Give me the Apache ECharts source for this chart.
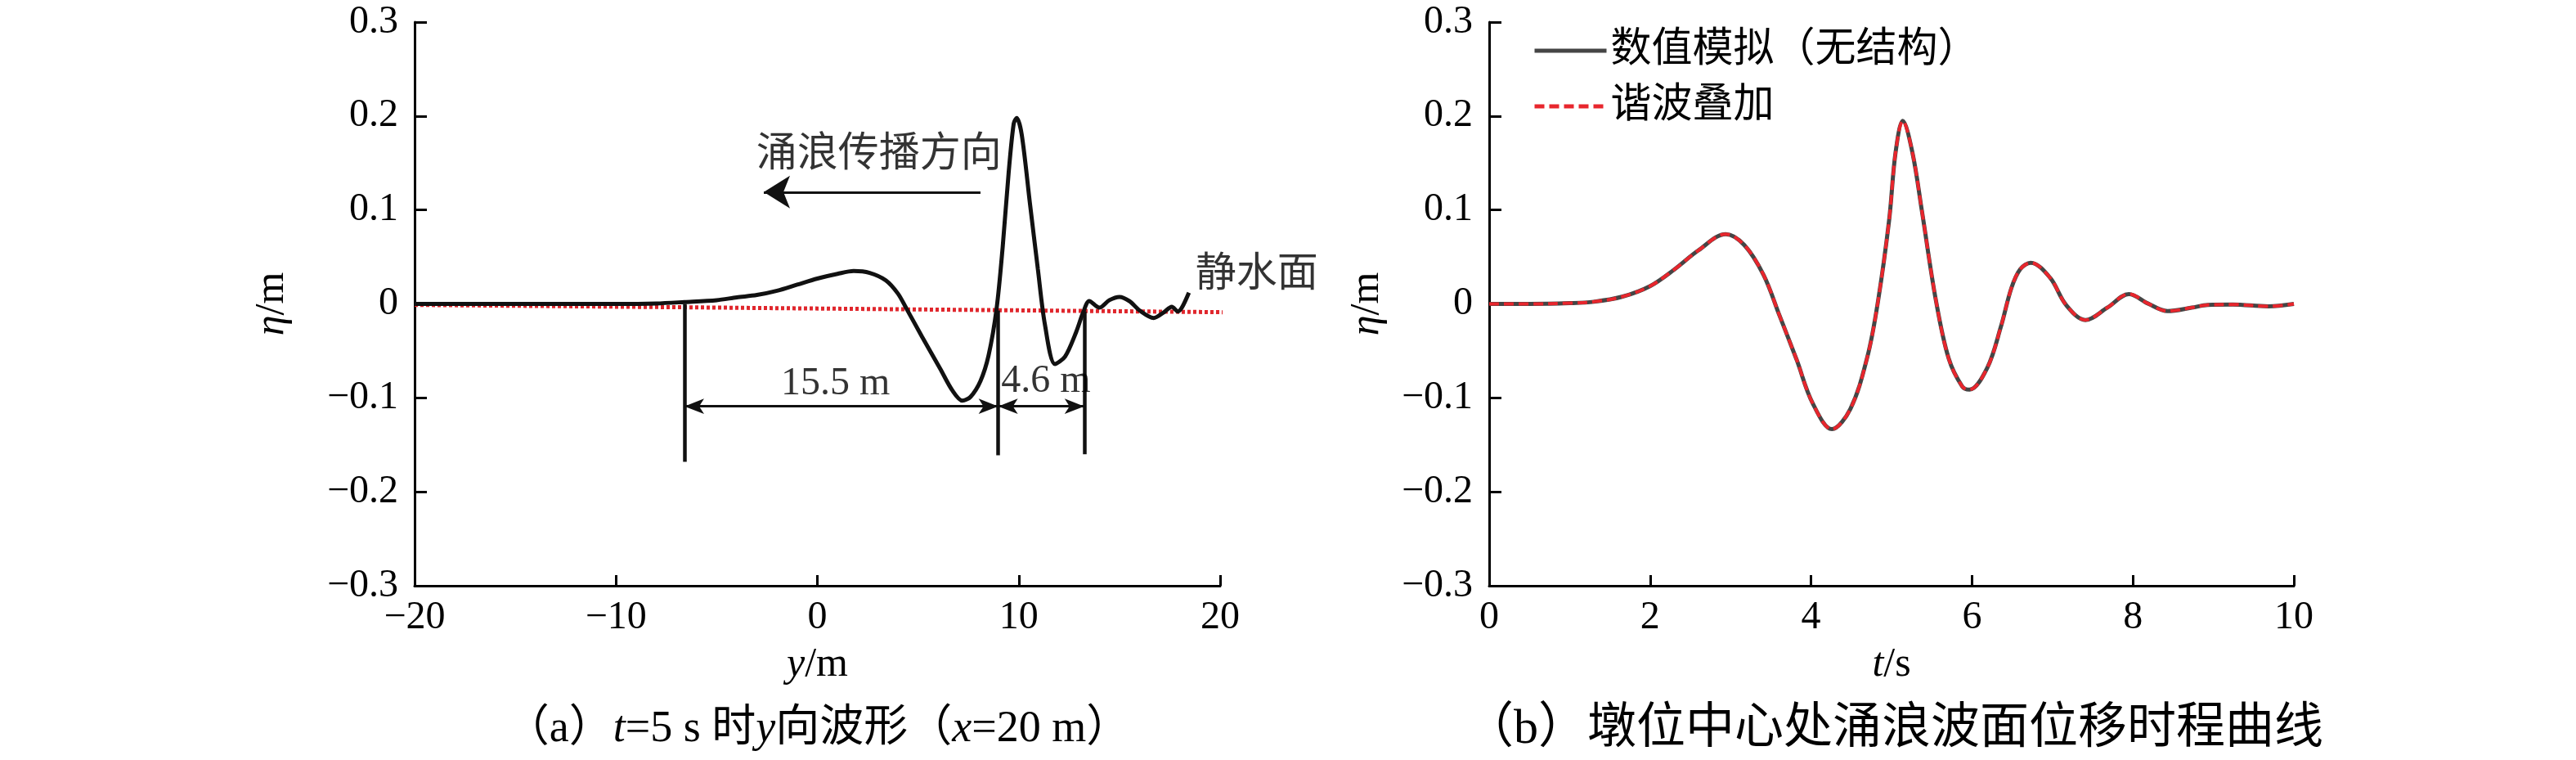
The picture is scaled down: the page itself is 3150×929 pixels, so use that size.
<!DOCTYPE html>
<html><head><meta charset="utf-8">
<script src="https://cdn.jsdelivr.net/npm/echarts@6/dist/echarts.min.js"></script>
<style>html,body{margin:0;padding:0;background:#fff}#c{width:3150px;height:929px}</style>
</head><body><div id="c"></div><script>
// ---------- data ----------
// (a) wave profile along y at t = 5 s
const waveY   = [-20, -15, -10, -8, -6.6, -5, -4, -3, -2, -1, 0, 1, 1.8, 2.6, 3.4, 4.0, 4.4, 5.2, 6.1, 6.7, 7.2, 7.6, 8.1, 8.5, 8.9, 9.2, 9.5, 9.75, 9.9, 10.15, 10.55, 10.95, 11.3, 11.8, 12.3, 12.85, 13.2, 13.5, 14.0, 14.5, 15.0, 15.5, 16.0, 16.7, 17.2, 17.6, 17.9, 18.1, 18.45];
const waveEta = [0, 0, 0, 0.0005, 0.002, 0.004, 0.007, 0.0095, 0.014, 0.0205, 0.027, 0.032, 0.035, 0.033, 0.025, 0.011, -0.004, -0.035, -0.069, -0.092, -0.103, -0.099, -0.082, -0.055, -0.005, 0.06, 0.14, 0.192, 0.198, 0.18, 0.108, 0.037, -0.022, -0.064, -0.056, -0.03, -0.009, 0.003, -0.004, 0.004, 0.0075, 0.003, -0.007, -0.015, -0.009, -0.003, -0.008, -0.004, 0.012];
// still water level line
const stillY   = [-20, 21];
const stillEta = [-0.001, -0.009];
// vertical marker lines
const markerY      = [-6.6, 8.98, 13.25];
const markerTop    = [0.0, -0.007, -0.008];
const markerBottom = [-0.168, -0.161, -0.160];
// dimension arrows
const dimLevel = -0.109;
// propagation arrow
const propY = [8.1, -2.66];
const propEta = 0.119;
// annotation texts
const noteTexts = ['涌浪传播方向', '15.5 m', '4.6 m', '静水面'];
const noteY     = [3.06, 0.9, 11.35, 18.77];
const noteEta   = [0.158, -0.085, -0.083, 0.030];

// (b) time history at pier centre
const timeT  = [0, 0.5, 1.0, 1.3, 1.65, 2.0, 2.3, 2.6, 2.94, 3.17, 3.41, 3.61, 3.82, 4.02, 4.26, 4.49, 4.7, 4.83, 4.97, 5.05, 5.14, 5.26, 5.38, 5.55, 5.71, 5.88, 5.97, 6.19, 6.36, 6.49, 6.6, 6.73, 6.97, 7.17, 7.41, 7.68, 7.95, 8.19, 8.43, 8.73, 8.93, 9.24, 9.68, 10];
const numEta = [0, 0, 0.0008, 0.0023, 0.0076, 0.019, 0.0366, 0.057, 0.0743, 0.0627, 0.0308, -0.0128, -0.0592, -0.1057, -0.1333, -0.1115, -0.0563, 0.0017, 0.0889, 0.161, 0.1948, 0.161, 0.0976, 0.0046, -0.058, -0.088, -0.0912, -0.068, -0.024, 0.017, 0.037, 0.0438, 0.0279, -0.0012, -0.0171, -0.0041, 0.0105, 0.0003, -0.0076, -0.004, -0.001, -0.0006, -0.0026, 0.0];
const harmEta = [0, 0, 0.0008, 0.0023, 0.0076, 0.019, 0.0366, 0.057, 0.0743, 0.0627, 0.0308, -0.0128, -0.0592, -0.1057, -0.1333, -0.1115, -0.0563, 0.0017, 0.0889, 0.161, 0.1948, 0.161, 0.0976, 0.0046, -0.058, -0.088, -0.0912, -0.068, -0.024, 0.017, 0.037, 0.0438, 0.0279, -0.0012, -0.0171, -0.0041, 0.0105, 0.0003, -0.0076, -0.004, -0.001, -0.0006, -0.0026, 0.0];
const seriesNames = ['数值模拟（无结构）', '谐波叠加'];

// captions: [text piece, italic?]
const captionA = [['（a）', false], ['t', true], ['=5 s 时', false], ['y', true], ['向波形（', false], ['x', true], ['=20 m）', false]];
const captionB = [['（b）墩位中心处涌浪波面位移时程曲线', false]];

// ---------- chart ----------
const FONT = "'Liberation Serif', 'Noto Sans CJK SC', serif";
const zip = (a, b) => a.map((v, i) => [v, b[i]]);
const fmt = v => String(+v.toFixed(2)).replace('-', '\u2212');

function xAx(idx, min, max, interval, nameRich) {
  return {
    type: 'value', gridIndex: idx, min, max, interval,
    name: nameRich, nameLocation: 'middle', nameGap: 72,
    nameTextStyle: { fontFamily: FONT, fontSize: 50, color: '#000',
      rich: { i: { fontFamily: FONT, fontStyle: 'italic', fontSize: 50, color: '#000' } } },
    axisLine: { onZero: false, lineStyle: { color: '#000', width: 3 } },
    axisTick: { inside: true, length: 13, lineStyle: { color: '#000', width: 3 } },
    axisLabel: { margin: 15, fontFamily: FONT, fontSize: 48, color: '#000', formatter: fmt },
    splitLine: { show: false }
  };
}
function yAx(idx, gap) {
  return {
    type: 'value', gridIndex: idx, min: -0.3, max: 0.3, interval: 0.1,
    name: '{i|η}/m', nameLocation: 'middle', nameGap: gap, nameRotate: 90,
    nameTextStyle: { fontFamily: FONT, fontSize: 50, color: '#000',
      rich: { i: { fontFamily: FONT, fontStyle: 'italic', fontSize: 50, color: '#000' } } },
    axisLine: { onZero: false, lineStyle: { color: '#000', width: 3 } },
    axisTick: { inside: true, length: 15, lineStyle: { color: '#000', width: 3 } },
    axisLabel: { margin: 20, fontFamily: FONT, fontSize: 48, color: '#000', formatter: fmt },
    splitLine: { show: false }
  };
}
// caption built from plain text pieces laid out side by side (measured at runtime)
const measureCtx = document.createElement('canvas').getContext('2d');
function fontStr(italic, size) { return (italic ? 'italic ' : '') + size + 'px ' + FONT; }
function captionGroup(pieces, cx, cy, size) {
  const widths = pieces.map(([t, it]) => { measureCtx.font = fontStr(it, size); return measureCtx.measureText(t).width; });
  const total = widths.reduce((a, b) => a + b, 0);
  let x = cx - total / 2;
  const children = pieces.map(([t, it], i) => {
    const el = { type: 'text', x, y: cy, silent: true,
      style: { text: t, font: fontStr(it, size), fill: '#000', align: 'left', verticalAlign: 'middle' } };
    x += widths[i];
    return el;
  });
  return { type: 'group', children };
}

const markerLines = markerY.map((y, i) => [{ coord: [y, markerTop[i]] }, { coord: [y, markerBottom[i]] }]);
const dimLines = [
  [{ coord: [markerY[0], dimLevel] }, { coord: [markerY[1], dimLevel] }],
  [{ coord: [markerY[1], dimLevel] }, { coord: [markerY[2], dimLevel] }]
];

const chart = echarts.init(document.getElementById('c'));
chart.setOption({
  animation: false,
  backgroundColor: '#fff',
  graphic: [captionGroup(captionA, 1000, 892, 54), captionGroup(captionB, 2316, 892, 60)],
  grid: [
    { left: 507, top: 27, width: 985, height: 689 },
    { left: 1821, top: 27, width: 984, height: 689 }
  ],
  xAxis: [xAx(0, -20, 20, 10, '{i|y}/m'), xAx(1, 0, 10, 2, '{i|t}/s')],
  yAxis: [yAx(0, 149), yAx(1, 124)],
  legend: {
    data: seriesNames, orient: 'vertical', left: 1869, top: 32,
    itemWidth: 88, itemHeight: 14, itemGap: 18,
    itemStyle: { opacity: 0 },
    lineStyle: { width: 5 },
    textStyle: { fontFamily: FONT, fontSize: 50, color: '#000' }
  },
  series: [
    { type: 'line', xAxisIndex: 0, yAxisIndex: 0, data: zip(stillY, stillEta), clip: false, z: 2,
      symbol: 'none', lineStyle: { color: '#e0262c', width: 5, type: [4, 3] }, silent: true },
    { type: 'line', xAxisIndex: 0, yAxisIndex: 0, data: zip(waveY, waveEta), z: 3, smooth: 0.3,
      symbol: 'none', lineStyle: { color: '#111', width: 5 }, silent: true,
      markLine: { silent: true, symbol: ['none', 'none'], label: { show: false },
        lineStyle: { color: '#111', width: 4.5, type: 'solid' }, data: markerLines } },
    { type: 'line', xAxisIndex: 0, yAxisIndex: 0, data: [], z: 4, symbol: 'none',
      markLine: { silent: true, symbol: ['arrow', 'arrow'], symbolSize: [14, 24], label: { show: false },
        lineStyle: { color: '#111', width: 3, type: 'solid' }, data: dimLines } },
    { type: 'line', xAxisIndex: 0, yAxisIndex: 0, data: [], z: 4, symbol: 'none',
      markLine: { silent: true, symbol: ['none', 'arrow'], symbolSize: [30, 32], label: { show: false },
        lineStyle: { color: '#111', width: 3, type: 'solid' },
        data: [[{ coord: [propY[0], propEta] }, { coord: [propY[1], propEta] }]] } },
    { type: 'scatter', xAxisIndex: 0, yAxisIndex: 0, symbolSize: 0, silent: true, z: 5,
      data: noteTexts.map((t, i) => ({ value: [noteY[i], noteEta[i]], name: t,
        label: { show: true, formatter: t, position: i === 3 ? 'right' : 'inside', distance: 0,
          fontFamily: FONT, fontSize: i === 0 || i === 3 ? 50 : 48, color: '#000' } })) },
    { name: seriesNames[0], type: 'line', xAxisIndex: 1, yAxisIndex: 1, data: zip(timeT, numEta), z: 3,
      smooth: 0.35, symbol: 'none', showSymbol: false, itemStyle: { color: '#454545' },
      lineStyle: { color: '#454545', width: 5 } },
    { name: seriesNames[1], type: 'line', xAxisIndex: 1, yAxisIndex: 1, data: zip(timeT, harmEta), z: 4,
      smooth: 0.35, symbol: 'none', showSymbol: false, itemStyle: { color: '#e8262d' },
      lineStyle: { color: '#e8262d', width: 4, type: [12, 6] } }
  ]
});
</script></body></html>
